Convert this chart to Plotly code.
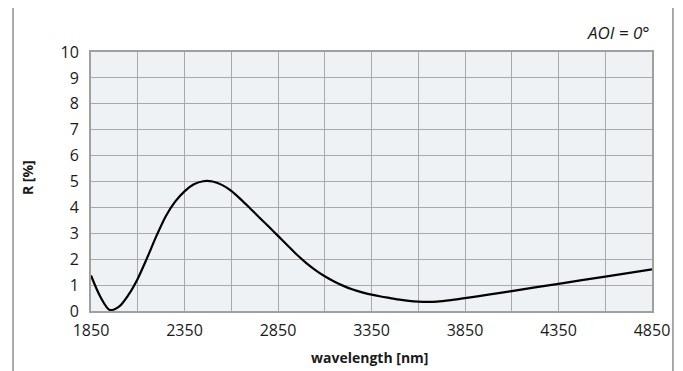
import plotly.graph_objects as go

# reflectance curve (AOI = 0 deg)
wavelength = [1850, 1900, 1950, 2000, 2050, 2100, 2150, 2200, 2250, 2300,
              2350, 2400, 2450, 2500, 2550, 2600, 2650, 2700, 2750, 2800,
              2850, 2900, 2950, 3000, 3050, 3100, 3150, 3200, 3250, 3300,
              3350, 3400, 3450, 3500, 3550, 3600, 3650, 3700, 3775, 3850,
              3975, 4100, 4350, 4600, 4850]
reflectance = [1.37, 0.55, 0.04, 0.17, 0.62, 1.25, 2.05, 2.9, 3.66, 4.22,
               4.62, 4.89, 5.01, 5.0, 4.87, 4.64, 4.32, 3.97, 3.61, 3.26,
               2.9, 2.54, 2.18, 1.86, 1.58, 1.34, 1.14, 0.97, 0.83, 0.72,
               0.63, 0.56, 0.5, 0.44, 0.39, 0.36, 0.35, 0.36, 0.42, 0.5,
               0.63, 0.77, 1.05, 1.33, 1.61]

x_ticks = [1850, 2350, 2850, 3350, 3850, 4350, 4850]
y_ticks = list(range(0, 11))

FONT = "Open Sans"
GRID = "#A9A9A9"

fig = go.Figure()
fig.add_trace(go.Scatter(x=wavelength, y=reflectance, mode="lines",
                         line=dict(color="black", width=2.2, shape="spline", smoothing=0.8),
                         hoverinfo="skip", showlegend=False))

# page body adds an 8px offset, so the figure is 8px smaller and margins shifted
fig.update_layout(
    width=675, height=363,
    margin=dict(l=83, r=31, t=44, b=60),
    paper_bgcolor="white",
    plot_bgcolor="#EEF2F4",
    font=dict(family=FONT, size=16, color="#1a1a1a"),
    showlegend=False,
)

fig.update_xaxes(
    range=[1850, 4850], tickvals=x_ticks, ticktext=[str(v) for v in x_ticks],
    showgrid=True, gridcolor=GRID, gridwidth=1,
    minor=dict(tickvals=[2100, 2600, 3100, 3600, 4100, 4600], showgrid=True,
               gridcolor=GRID, gridwidth=1),
    showline=True, linecolor="#A0A0A0", linewidth=2, mirror=True,
    ticks="outside", ticklen=4, tickcolor="rgba(0,0,0,0)",
    zeroline=False, fixedrange=True,
)
fig.update_yaxes(
    range=[0, 10], tickvals=y_ticks,
    showgrid=True, gridcolor=GRID, gridwidth=1,
    showline=True, linecolor="#A0A0A0", linewidth=2, mirror=True,
    ticks="outside", ticklen=7, tickcolor="rgba(0,0,0,0)",
    zeroline=False, fixedrange=True,
)

# outer frame (open at the bottom of the picture)
fig.add_shape(type="rect", xref="paper", yref="paper",
              x0=-0.139, x1=1.0374, y0=-0.6, y1=1.1776,
              line=dict(color="#555555", width=1), layer="below")

fig.add_annotation(text="R [%]", xref="paper", yref="paper", x=-0.112, y=0.514,
                   xanchor="center", yanchor="middle", textangle=-90, showarrow=False,
                   font=dict(family=FONT, size=14, color="#1a1a1a", weight="bold"))
fig.add_annotation(text="wavelength [nm]", xref="paper", yref="paper", x=0.496, y=-0.178,
                   xanchor="center", yanchor="middle", showarrow=False,
                   font=dict(family=FONT, size=14, color="#1a1a1a", weight="bold"))
fig.add_annotation(text="<i>AOI = 0°</i>", xref="paper", yref="paper", x=1.0, y=1.077,
                   xanchor="right", yanchor="middle", showarrow=False,
                   font=dict(family=FONT, size=17, color="#1a1a1a"))

fig.write_html("out.html")
